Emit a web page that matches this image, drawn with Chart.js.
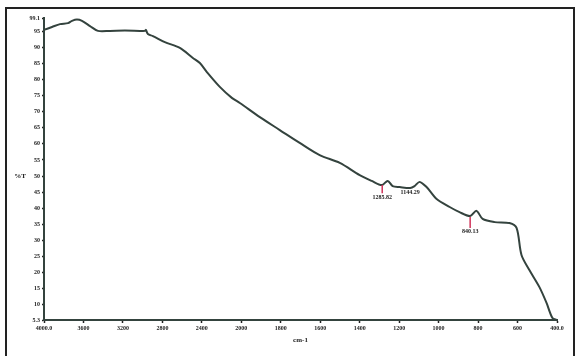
<!DOCTYPE html>
<html>
<head>
<meta charset="utf-8">
<script src="https://cdn.jsdelivr.net/npm/chart.js@4/dist/chart.umd.min.js"></script>
<style>
  html, body { margin: 0; padding: 0; background: #fff; overflow: hidden; }
  #wrap { position: relative; width: 578px; height: 356px; }
  #frame { position: absolute; left: 5px; top: 7px; width: 566px; height: 360px; border: 2px solid #222; border-bottom: none; }
  canvas { position: absolute; left: 0; top: 0; }
</style>
</head>
<body>
<div id="wrap">
  <div id="frame"></div>
  <canvas id="ftir" width="578" height="356"></canvas>
</div>
<script>
// wavenumber (cm-1) and transmittance (%T)
const wavenumbers = [4000, 3919, 3838, 3757, 3716, 3666, 3615, 3534, 3453, 3332, 3180, 3028, 2977, 2967, 2947, 2896,
  2775, 2623, 2491, 2420, 2349, 2218, 2096, 2015, 1906, 1805, 1704, 1603, 1501, 1400, 1339, 1288, 1258, 1233,
  1197, 1144, 1122, 1096, 1061, 1010, 944, 894, 840, 808, 777, 716, 641, 605, 580, 540, 489, 453, 423, 400];
const transmittance = [95.4, 96.3, 97.2, 97.5, 98.2, 98.6, 98.2, 96.6, 95.1, 95.1, 95.2, 95.1, 95.1, 95.4, 94.1, 93.5,
  91.6, 89.8, 86.7, 85.1, 82.3, 77.7, 74.3, 72.7, 68.3, 64.3, 60.3, 56.5, 54.1, 50.3, 48.5, 47.2, 48.5, 46.9,
  46.6, 46.3, 46.9, 48.2, 46.6, 42.9, 40.4, 38.8, 37.6, 39.2, 36.7, 35.7, 35.4, 33.9, 25.5, 20.8, 15.5, 10.6, 5.9, 5.3];

// x tick labels (axis changes scale at 2000)
const xTickLabels = ['4000.0', '3600', '3200', '2800', '2400', '2000', '1800', '1600', '1400', '1200', '1000', '800', '600', '400.0'];
const yTickValues = [5.3, 10, 15, 20, 25, 30, 35, 40, 45, 50, 55, 60, 65, 70, 75, 80, 85, 90, 95, 99.1];

// peak picks
const peakWn = [1285.82, 1144.29, 840.13];
const peakTop = [47.2, 46.3, 37.3];
const peakBottom = [44.7, 46.3, 33.9];
const peakText = ['1285.82', '1144.29', '840.13'];

// 400 cm-1 per division above 2000, 200 cm-1 per division below
function toU(wn) {
  return wn >= 2000 ? (4000 - wn) / 400 : 5 + (2000 - wn) / 200;
}

const points = wavenumbers.map((w, i) => ({ x: toU(w), y: transmittance[i] }));

const extras = {
  id: 'extras',
  afterDatasetsDraw(chart) {
    const ctx = chart.ctx;
    const xs = chart.scales.x, ys = chart.scales.y;
    ctx.save();
    peakWn.forEach((w, i) => {
      const px = xs.getPixelForValue(toU(w));
      const y1 = ys.getPixelForValue(peakTop[i]);
      const y2 = ys.getPixelForValue(peakBottom[i]);
      if (y2 - y1 > 1) {
        ctx.strokeStyle = '#d0335a';
        ctx.lineWidth = 1.5;
        ctx.beginPath();
        ctx.moveTo(px, y1);
        ctx.lineTo(px, y2);
        ctx.stroke();
      }
      ctx.fillStyle = '#222';
      ctx.font = 'bold 6px "Liberation Serif"';
      ctx.textAlign = 'center';
      ctx.textBaseline = 'top';
      ctx.fillText(peakText[i], px, y2 + 1);
    });
    ctx.font = 'bold 7px "Liberation Serif"';
    ctx.fillStyle = '#222';
    ctx.textAlign = 'center';
    ctx.textBaseline = 'middle';
    ctx.fillText('%T', 20, ys.getPixelForValue(50));
    ctx.fillText('cm-1', (xs.left + xs.right) / 2 + 0, 340);
    ctx.restore();
  }
};

new Chart(document.getElementById('ftir'), {
  type: 'line',
  data: {
    datasets: [{
      data: points,
      borderColor: '#34433e',
      borderWidth: 2,
      pointRadius: 0,
      tension: 0.3,
      fill: false
    }]
  },
  options: {
    responsive: false,
    animation: false,
    events: [],
    layout: { padding: { top: 18, right: 21, left: 0, bottom: 0 } },
    plugins: { legend: { display: false }, tooltip: { enabled: false } },
    scales: {
      x: {
        type: 'linear',
        min: 0,
        max: 13,
        afterBuildTicks: s => { s.ticks = xTickLabels.map((l, i) => ({ value: i })); },
        afterFit: s => { s.height = 36; },
        ticks: {
          maxRotation: 0,
          autoSkip: false,
          padding: 2,
          color: '#222',
          font: { family: 'Liberation Serif', size: 6, weight: 'bold' },
          callback: (v, i) => xTickLabels[i]
        },
        grid: { drawOnChartArea: false, tickLength: 3, color: '#222', tickWidth: 1.5 },
        border: { color: '#34433e', width: 2 }
      },
      y: {
        min: 5.3,
        max: 99.1,
        afterBuildTicks: s => { s.ticks = yTickValues.map(v => ({ value: v })); },
        afterFit: s => { s.width = 44; },
        ticks: {
          autoSkip: false,
          padding: 2,
          color: '#222',
          font: { family: 'Liberation Serif', size: 6, weight: 'bold' },
          callback: v => String(v)
        },
        grid: { drawOnChartArea: false, tickLength: 2, color: '#222', tickWidth: 1.5 },
        border: { color: '#34433e', width: 2 }
      }
    }
  },
  plugins: [extras]
});
</script>
</body>
</html>
